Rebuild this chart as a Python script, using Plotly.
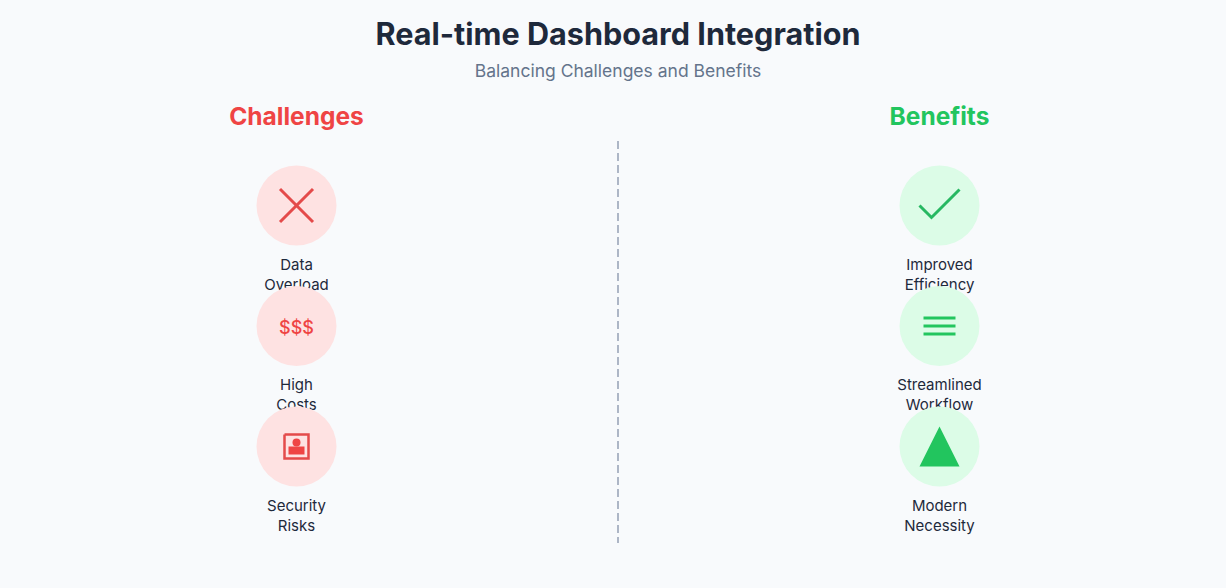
import plotly.graph_objects as go

W, H = 1226, 588
BG = "#f8fafc"
DARK = "#1e293b"
SLATE = "#64748b"
RED = "#ef4444"
RED_LINE = "#e44a4a"
RED_SOFT = "#fee2e2"
GREEN = "#22c55e"
GREEN_LINE = "#27b862"
GREEN_SOFT = "#dcfce7"
DIVIDER = "#adb6c6"
FONT = "Inter"

challenges = [["Data", "Overload"], ["High", "Costs"], ["Security", "Risks"]]
benefits = [["Improved", "Efficiency"], ["Streamlined", "Workflow"], ["Modern", "Necessity"]]
row_y = [205.5, 326, 446.5]
col_x = {"left": 296.5, "right": 939.5}

fig = go.Figure()


def add_line(xs, ys, color, width=3, dash=None):
    fig.add_trace(go.Scatter(x=xs, y=ys, mode="lines", hoverinfo="skip",
                             line=dict(color=color, width=width, dash=dash)))


def add_fill(xs, ys, color):
    fig.add_trace(go.Scatter(x=xs, y=ys, mode="lines", fill="toself", fillcolor=color,
                             hoverinfo="skip", line=dict(color=color, width=0)))


def add_text(x, y, text, size, color, weight="normal"):
    fig.add_trace(go.Scatter(x=[x], y=[y], mode="text", text=[text], hoverinfo="skip",
                             textposition="middle center",
                             textfont=dict(size=size, color=color, family=FONT, weight=weight)))


def rel(cx, cy, pts):
    return [cx + p[0] for p in pts], [cy + p[1] for p in pts]


# divider
add_line([618, 618], [141, 543], DIVIDER, width=2, dash="8px,4px")

# Labels first, so each following circle overlaps the text above it
for key, labels, soft in (("left", challenges, RED_SOFT), ("right", benefits, GREEN_SOFT)):
    cx = col_x[key]
    for cy, pair in zip(row_y, labels):
        add_text(cx, cy + 60.5, pair[0], 15, DARK)
        add_text(cx, cy + 80.5, pair[1], 15, DARK)
        fig.add_trace(go.Scatter(x=[cx], y=[cy], mode="markers", hoverinfo="skip",
                                 marker=dict(size=80, color=soft, line=dict(width=0))))

# Icons: challenges
lx = col_x["left"]
xs, ys = rel(lx, row_y[0], [(-16.5, -16.5), (16.5, 16.5)])
add_line(xs, ys, RED_LINE)
xs, ys = rel(lx, row_y[0], [(16.5, -16.5), (-16.5, 16.5)])
add_line(xs, ys, RED_LINE)
add_text(lx, row_y[1] + 3, "$$$", 18, RED, weight=500)
xs, ys = rel(lx, row_y[2], [(-12, -12), (12, -12), (12, 12), (-12, 12), (-12, -12)])
add_line(xs, ys, RED_LINE, width=2.5)
xs, ys = rel(lx, row_y[2], [(-8, 0), (8, 0), (8, 8), (-8, 8), (-8, 0)])
add_fill(xs, ys, RED)
fig.add_trace(go.Scatter(x=[lx], y=[row_y[2] - 4], mode="markers", hoverinfo="skip",
                         marker=dict(size=8, color=RED, line=dict(width=0))))

# Icons: benefits
rx = col_x["right"]
xs, ys = rel(rx, row_y[0], [(-20, 0), (-8, 12), (20, -16)])
add_line(xs, ys, GREEN_LINE)
for dy in (-8, 0, 8):
    xs, ys = rel(rx, row_y[1], [(-16, dy), (16, dy)])
    add_line(xs, ys, GREEN)
xs, ys = rel(rx, row_y[2], [(0, -20), (20, 20), (-20, 20), (0, -20)])
add_fill(xs, ys, GREEN)

# Headings
add_text(618, 37.5, "Real-time Dashboard Integration", 30.6, DARK, weight="bold")
add_text(618, 72.5, "Balancing Challenges and Benefits", 17.5, SLATE)
add_text(col_x["left"], 119, "Challenges", 24.5, RED, weight="bold")
add_text(col_x["right"], 119, "Benefits", 24.5, GREEN, weight="bold")

fig.update_layout(
    width=W, height=H, autosize=False, showlegend=False,
    margin=dict(l=0, r=0, t=0, b=0),
    paper_bgcolor=BG, plot_bgcolor=BG,
    xaxis=dict(range=[0, W], visible=False, fixedrange=True),
    yaxis=dict(range=[H, 0], visible=False, fixedrange=True),
)
fig.write_html("out.html", config={"displayModeBar": False},
               post_script="document.body.style.margin='0';document.body.style.background='#f8fafc';document.body.style.overflow='hidden';")
